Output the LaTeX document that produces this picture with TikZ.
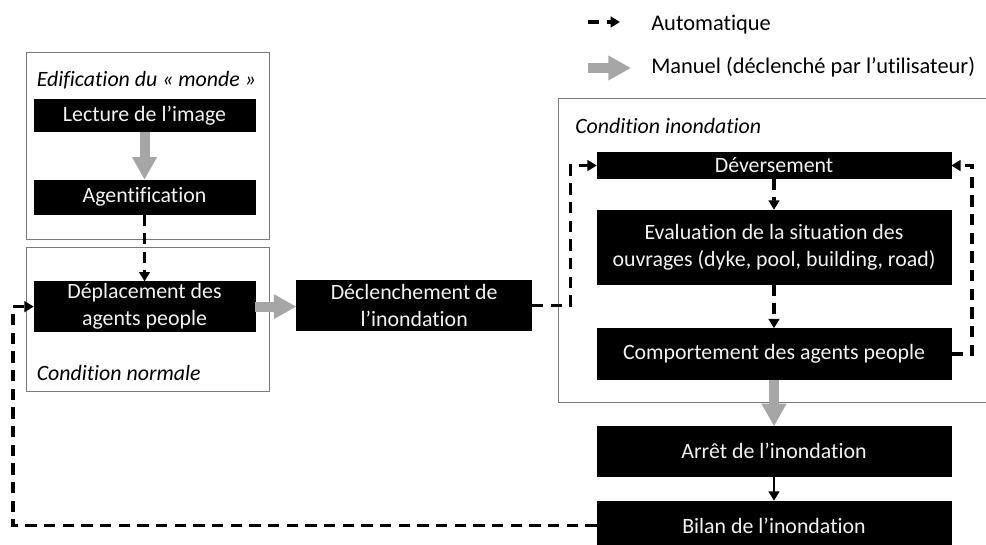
\documentclass[tikz,border=0pt]{standalone}
\usepackage{fontspec}
\setmainfont{Carlito}[Ligatures=NoCommon]
\usetikzlibrary{arrows.meta}
\definecolor{manuelgray}{HTML}{A6A6A6}
\definecolor{framegray}{HTML}{7A7A7A}
\definecolor{boxtext}{HTML}{F2F2F2}
\tikzset{
  blackbox/.style={fill=black, draw=black, text=boxtext, inner sep=0pt, align=center,
    font=\fontsize{16.4}{20}\selectfont, minimum width=165.75pt},
  widebox/.style={blackbox, minimum width=265.5pt},
  frame/.style={draw=framegray, line width=1pt},
  label/.style={inner sep=0pt, font=\fontsize{16.4}{20}\selectfont\itshape},
  legtext/.style={inner sep=0pt, font=\fontsize{16.8}{20}\selectfont},
  automatic/.style={draw=black, line width=2.4pt, dash pattern=on 8.5pt off 5.5pt,
    -{Triangle[width=8pt,length=7pt]}},
  solidarrow/.style={draw=black, line width=1.6pt, -{Triangle[width=8pt,length=7pt]}},
  manual/.style={draw=manuelgray, line width=7.5pt,
    -{Triangle[width=17.5pt,length=17pt,fill=manuelgray]}},
}
\begin{document}
\begin{tikzpicture}[x=0.75pt, y=-0.75pt]
\useasboundingbox (0,0) rectangle (986,544);
\clip (0,0) rectangle (986,544);
% frames
\draw[frame] (26.7,52.7) rectangle (269.5,239.3);
\draw[frame] (26.7,247.3) rectangle (269.5,391.7);
\draw[frame] (558.5,98.7) rectangle (992,402.7);
% frame labels
\node[label, anchor=base west] (tedif) at (36.5,86.7) {Edification du « monde »};
\node[label, anchor=base west] (tnorm) at (36.5,380.7) {Condition normale};
\node[label, anchor=base west] (tinond) at (575,133.3) {Condition inondation};
% boxes
\node[blackbox, minimum height=24pt] (lec) at (144.5,115.6) {Lecture de l’image};
\node[blackbox, minimum height=25.5pt] (agent) at (144.5,197) {Agentification};
\node[blackbox, minimum height=37.5pt] (dep) at (144.5,306.6) {Déplacement des\\agents people};
\node[blackbox, minimum width=176.25pt, minimum height=37.1pt] (decl) at (414.2,305.4) {Déclenchement de\\l’inondation};
\node[widebox, minimum height=19.2pt] (dev) at (774,165.5) {Déversement};
\node[widebox, minimum height=55.5pt] (eval) at (774,247) {Evaluation de la situation des\\ouvrages (dyke, pool, building, road)};
\node[widebox, minimum height=38.25pt] (comp) at (774,354) {Comportement des agents people};
\node[widebox, minimum height=37pt] (arret) at (774,451.3) {Arrêt de l’inondation};
\node[widebox, minimum height=36.75pt] (bilan) at (774,525.5) {Bilan de l’inondation};
% connectors
\draw[manual] (lec.south) -- (agent.north);
\draw[automatic] (agent.south) -- (dep.north);
\draw[manual] (dep.east) -- (dep.east -| decl.west);
\coordinate (lx) at (570.5,165.5);
\draw[automatic] (decl.east) -| (lx) -- (dev.west);
\draw[automatic] (dev.south) -- (eval.north);
\draw[automatic] (eval.south) -- (comp.north);
\coordinate (rx) at (972,165.5);
\draw[automatic] (comp.east) -| (rx) -- (dev.east);
\draw[manual] (comp.south) -- (arret.north);
\draw[solidarrow] (arret.south) -- (bilan.north);
\coordinate (bx) at (13,306.6);
\draw[automatic] (bilan.west) -| (bx) -- (dep.west);
% legend
\coordinate (la1) at (588,22);
\coordinate (la2) at (620,22);
\draw[automatic] (la1) -- (la2);
\node[legtext, anchor=base west] (lat) at (651,30) {Automatique};
\coordinate (lm1) at (588,68);
\coordinate (lm2) at (631,68);
\draw[manual] (lm1) -- (lm2);
\node[legtext, anchor=base west] (lmt) at (651,73) {Manuel (déclenché par l’utilisateur)};
\end{tikzpicture}
\end{document}
